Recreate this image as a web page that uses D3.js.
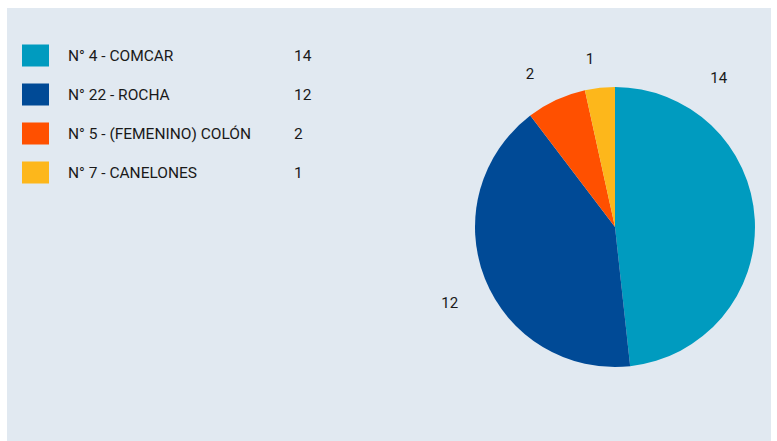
<!DOCTYPE html>
<html lang="es">
<head>
<meta charset="UTF-8">
<script src="https://d3js.org/d3.v7.min.js"></script>
<style>
  body { margin: 0; background: #fff; }
  text { font-family: Roboto, "Noto Sans", sans-serif; fill: #1a1a1a; }
</style>
</head>
<body>
<svg id="chart" width="777" height="441"></svg>
<script>
// data
const categories = ["N° 4 - COMCAR", "N° 22 - ROCHA", "N° 5 - (FEMENINO) COLÓN", "N° 7 - CANELONES"];
const values = [14, 12, 2, 1];
const colors = ["#009bbf", "#004a96", "#ff5000", "#fdb71b"];

const svg = d3.select("svg#chart");
const width = +svg.attr("width");
const height = +svg.attr("height");

// panel background
svg.append("rect")
    .attr("x", 7).attr("y", 8)
    .attr("width", width - 13).attr("height", height - 8)
    .attr("fill", "#e1e9f1");

const colorScale = d3.scaleOrdinal(categories, colors);

// legend
const rowScale = d3.scalePoint().domain(categories).range([55.5, 172.5]);
const legend = svg.append("g").attr("class", "legend");
categories.forEach((c, i) => {
    const y = rowScale(c);
    legend.append("rect")
        .attr("x", 22).attr("y", y - 11)
        .attr("width", 27).attr("height", 22)
        .attr("fill", colorScale(c));
    legend.append("text")
        .attr("x", 68).attr("y", y)
        .attr("dy", "0.36em")
        .style("font-size", "15.5px")
        .text(c);
    legend.append("text")
        .attr("x", 294).attr("y", y)
        .attr("dy", "0.36em")
        .style("font-size", "15.5px")
        .text(values[i]);
});

// pie
const cx = 615, cy = 227, radius = 140;
const pie = d3.pie().sort(null).value(d => d.value);
const arcs = pie(categories.map((c, i) => ({ name: c, value: values[i] })));
const arc = d3.arc().innerRadius(0).outerRadius(radius);

const g = svg.append("g").attr("transform", `translate(${cx},${cy})`);
g.selectAll("path").data(arcs)
    .join("path")
    .attr("d", arc)
    .attr("fill", d => colorScale(d.data.name));

// label placement inside each slice's angle span (fraction) and distance from centre
const labelFrac = [0.2, 0.48, 0.33, 0.32];
const labelDist = [182, 182, 175, 170];
g.selectAll("text.lbl").data(arcs)
    .join("text")
    .attr("class", "lbl")
    .each(function (d, i) {
        const a = d.startAngle + (d.endAngle - d.startAngle) * labelFrac[i];
        d3.select(this)
            .attr("x", Math.sin(a) * labelDist[i])
            .attr("y", -Math.cos(a) * labelDist[i]);
    })
    .attr("text-anchor", "middle")
    .attr("dy", "0.36em")
    .style("font-size", "15px")
    .text(d => d.data.value);
</script>
</body>
</html>
